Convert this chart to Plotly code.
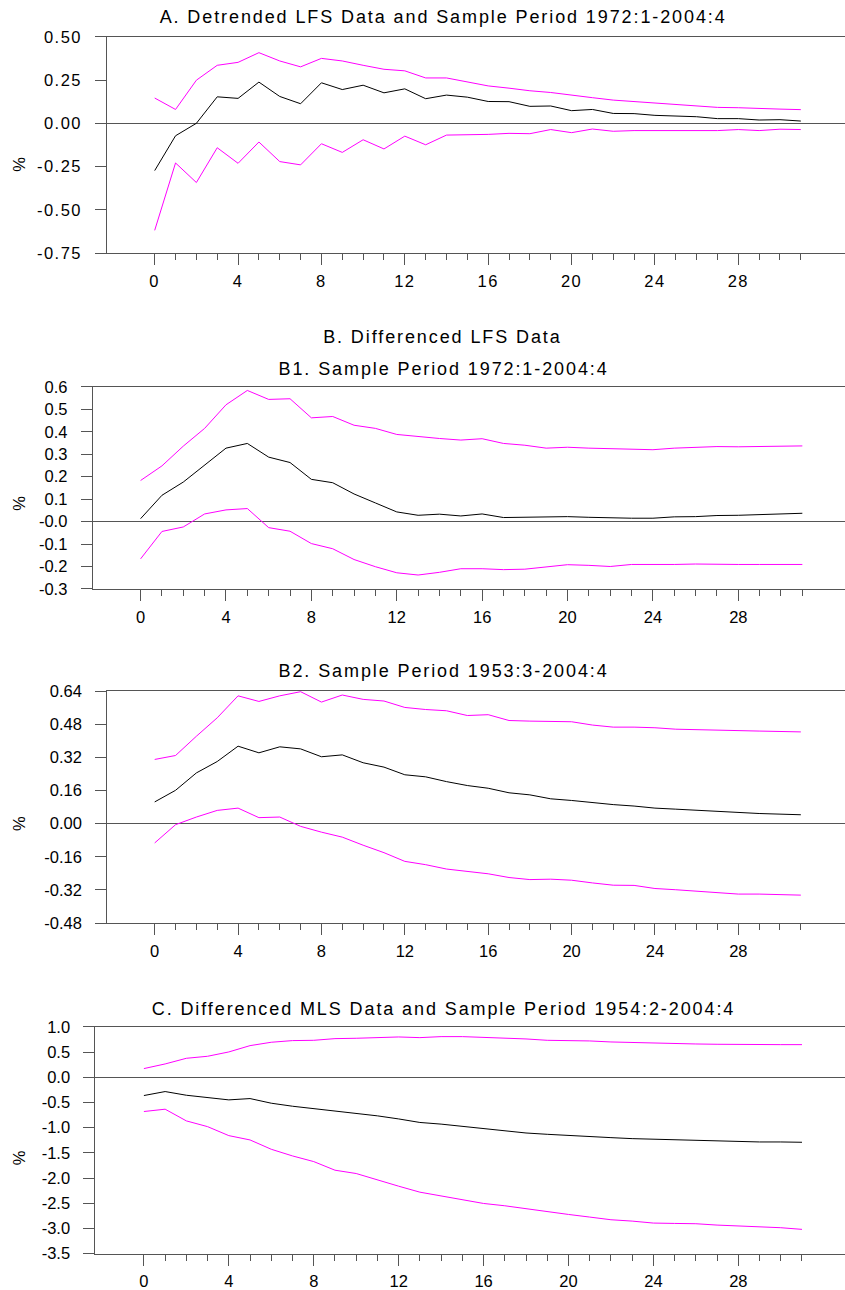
import plotly.graph_objects as go

W, H = 845, 1290
horizon = list(range(32))

A_upper = [0.146,0.080,0.249,0.335,0.352,0.408,0.360,0.326,0.375,0.360,0.335,0.312,0.303,0.262,0.262,0.240,0.216,0.203,0.188,0.178,0.161,0.148,0.134,0.126,0.115,0.107,0.100,0.092,0.090,0.084,0.082,0.079]
A_mid = [-0.273,-0.072,0.000,0.153,0.144,0.238,0.155,0.113,0.234,0.195,0.220,0.176,0.199,0.142,0.163,0.151,0.126,0.125,0.098,0.100,0.073,0.080,0.057,0.056,0.046,0.042,0.038,0.027,0.027,0.019,0.021,0.013]
A_lower = [-0.618,-0.229,-0.342,-0.141,-0.231,-0.108,-0.221,-0.240,-0.118,-0.168,-0.095,-0.148,-0.074,-0.124,-0.068,-0.068,-0.064,-0.058,-0.060,-0.036,-0.054,-0.033,-0.046,-0.042,-0.042,-0.040,-0.038,-0.042,-0.036,-0.042,-0.034,-0.036]

B1_upper = [0.183,0.248,0.336,0.415,0.520,0.584,0.544,0.547,0.462,0.468,0.429,0.415,0.388,0.378,0.370,0.363,0.369,0.348,0.340,0.327,0.331,0.327,0.324,0.324,0.320,0.327,0.330,0.334,0.333,0.334,0.337,0.337]
B1_mid = [0.013,0.117,0.176,0.250,0.327,0.348,0.287,0.263,0.188,0.173,0.123,0.083,0.043,0.028,0.033,0.025,0.034,0.018,0.019,0.018,0.022,0.019,0.016,0.015,0.015,0.021,0.022,0.027,0.028,0.031,0.034,0.037]
B1_lower = [-0.166,-0.044,-0.024,0.034,0.052,0.058,-0.027,-0.043,-0.098,-0.121,-0.169,-0.201,-0.228,-0.238,-0.226,-0.210,-0.210,-0.214,-0.212,-0.201,-0.192,-0.195,-0.200,-0.191,-0.192,-0.191,-0.189,-0.191,-0.191,-0.191,-0.191,-0.191]

B2_upper = [0.310,0.329,0.422,0.511,0.617,0.590,0.617,0.637,0.587,0.621,0.600,0.592,0.561,0.551,0.545,0.522,0.526,0.498,0.495,0.493,0.492,0.476,0.466,0.466,0.463,0.456,0.453,0.451,0.450,0.447,0.445,0.443]
B2_mid = [0.105,0.161,0.245,0.300,0.374,0.342,0.371,0.361,0.323,0.332,0.294,0.273,0.236,0.226,0.203,0.184,0.171,0.149,0.139,0.120,0.112,0.101,0.092,0.085,0.075,0.070,0.064,0.059,0.053,0.049,0.046,0.043]
B2_lower = [-0.093,-0.005,0.032,0.064,0.075,0.029,0.032,-0.013,-0.041,-0.065,-0.104,-0.140,-0.182,-0.198,-0.219,-0.231,-0.242,-0.260,-0.270,-0.268,-0.273,-0.286,-0.297,-0.298,-0.313,-0.319,-0.325,-0.332,-0.340,-0.340,-0.341,-0.345]

C_upper = [0.172,0.264,0.376,0.416,0.502,0.627,0.694,0.727,0.733,0.766,0.773,0.793,0.799,0.786,0.806,0.806,0.793,0.779,0.760,0.733,0.727,0.720,0.700,0.687,0.674,0.660,0.660,0.654,0.647,0.647,0.647,0.647]
C_mid = [-0.363,-0.284,-0.357,-0.396,-0.449,-0.423,-0.515,-0.575,-0.621,-0.680,-0.713,-0.766,-0.827,-0.897,-0.930,-0.972,-1.015,-1.066,-1.106,-1.132,-1.158,-1.178,-1.198,-1.218,-1.231,-1.244,-1.257,-1.270,-1.277,-1.284,-1.284,-1.290]
C_lower = [-0.680,-0.634,-0.866,-0.980,-1.158,-1.244,-1.429,-1.561,-1.673,-1.844,-1.910,-2.042,-2.161,-2.280,-2.352,-2.418,-2.504,-2.550,-2.610,-2.656,-2.722,-2.774,-2.827,-2.854,-2.893,-2.900,-2.906,-2.933,-2.953,-2.959,-2.985,-3.018]

x_tickvals = [0, 4, 8, 12, 16, 20, 24, 28]
A_yticks = [-0.75, -0.50, -0.25, 0.0, 0.25, 0.50]
A_yticktext = ["-0.75", "-0.50", "-0.25", "0.00", "0.25", "0.50"]
B1_yticks = [-0.3, -0.2, -0.1, 0.0, 0.1, 0.2, 0.3, 0.4, 0.5, 0.6]
B1_yticktext = ["-0.3", "-0.2", "-0.1", "-0.0", "0.1", "0.2", "0.3", "0.4", "0.5", "0.6"]
B2_yticks = [-0.48, -0.32, -0.16, 0.0, 0.16, 0.32, 0.48, 0.64]
B2_yticktext = ["-0.48", "-0.32", "-0.16", "0.00", "0.16", "0.32", "0.48", "0.64"]
C_yticks = [-3.5, -3.0, -2.5, -2.0, -1.5, -1.0, -0.5, 0.0, 0.5, 1.0]
C_yticktext = ["-3.5", "-3.0", "-2.5", "-2.0", "-1.5", "-1.0", "-0.5", "0.0", "0.5", "1.0"]

FONT = "Liberation Sans"
MAG = "#FF00FF"
AXC = "#555555"

S = H / (H + 16.0)


def vy(y_target):
    """vertical pixel in the figure so that the captured page shows it at y_target"""
    return y_target / S - 8.0


panels = [
    dict(series=(A_upper, A_mid, A_lower), left=107.3, x0=154.7, x28=738.3, top=35.7, bottom=252.7,
         yr=(-0.75, 0.50), yt=A_yticks, ytt=A_yticktext, pct=163),
    dict(series=(B1_upper, B1_mid, B1_lower), left=92.7, x0=140.6, x28=738.3, top=386.7, bottom=589.3,
         yr=(-0.3, 0.6), yt=B1_yticks, ytt=B1_yticktext, pct=503),
    dict(series=(B2_upper, B2_mid, B2_lower), left=107.2, x0=154.7, x28=738.3, top=691.7, bottom=924.3,
         yr=(-0.48, 0.64), yt=B2_yticks, ytt=B2_yticktext, pct=824),
    dict(series=(C_upper, C_mid, C_lower), left=95.4, x0=143.9, x28=738.3, top=1028.3, bottom=1255.7,
         yr=(-3.5, 1.0), yt=C_yticks, ytt=C_yticktext, pct=1159),
]

fig = go.Figure()
annotations = []
for i, p in enumerate(panels):
    n = "" if i == 0 else str(i + 1)
    per = (p["x28"] - p["x0"]) / 28.0
    xr = [(p["left"] - p["x0"]) / per, (W - p["x0"]) / per]
    xa = "xaxis" + n
    ya = "yaxis" + n
    up, mid, lo = p["series"]
    for s, c in ((up, MAG), (lo, MAG), (mid, "black")):
        fig.add_trace(go.Scatter(x=horizon, y=s, mode="lines", line=dict(color=c, width=1),
                                 xaxis="x" + n, yaxis="y" + n, showlegend=False, hoverinfo="skip"))
    fig.layout[xa] = dict(
        domain=[p["left"] / W, 1.0], range=xr, anchor="y" + n,
        showline=True, linecolor=AXC, linewidth=1, mirror=True,
        showgrid=False, zeroline=False,
        tickmode="array", tickvals=x_tickvals, ticks="outside", ticklen=11, tickcolor=AXC,
        tickfont=dict(family=FONT, size=16.5, color="black"), ticklabelstandoff=2,
        minor=dict(tickmode="array", tickvals=horizon, ticks="outside", ticklen=6, tickcolor=AXC),
    )
    fig.layout[ya] = dict(
        domain=[1 - vy(p["bottom"]) / H, 1 - vy(p["top"]) / H], range=list(p["yr"]), anchor="x" + n,
        showline=True, linecolor=AXC, linewidth=1,
        showgrid=False, zeroline=True, zerolinecolor=AXC, zerolinewidth=1,
        tickmode="array", tickvals=p["yt"], ticktext=p["ytt"], ticks="outside", ticklen=11,
        tickcolor=AXC, tickfont=dict(family=FONT, size=16.5, color="black"), ticklabelstandoff=10,
    )
    annotations.append(dict(text="%", x=19 / W, y=1 - vy(p["pct"]) / H, xref="paper", yref="paper",
                            xanchor="center", yanchor="middle", textangle=-90, showarrow=False,
                            font=dict(family=FONT, size=16.5, color="black")))

titles = [
    ("A. Detrended LFS Data and Sample Period 1972:1-2004:4", 16),
    ("B. Differenced LFS Data", 337),
    ("B1. Sample Period 1972:1-2004:4", 368.5),
    ("B2. Sample Period 1953:3-2004:4", 672),
    ("C. Differenced MLS Data and Sample Period 1954:2-2004:4", 1010.5),
]
for t, yp in titles:
    annotations.append(dict(text=t, x=443 / W, y=1 - vy(yp) / H, xref="paper", yref="paper",
                            xanchor="center", yanchor="middle", showarrow=False,
                            font=dict(family=FONT, size=18, color="black")))

fig.update_layout(width=W, height=H, margin=dict(l=0, r=0, t=0, b=0),
                  paper_bgcolor="white", plot_bgcolor="white", annotations=annotations)

js = """
document.querySelectorAll('.annotation-text').forEach(function(t){ t.style.letterSpacing='1.9px'; });
document.querySelectorAll('.xtick text, .ytick text').forEach(function(t){ t.style.letterSpacing='1.5px'; });
"""
fig.write_html("out.html", post_script=js)
